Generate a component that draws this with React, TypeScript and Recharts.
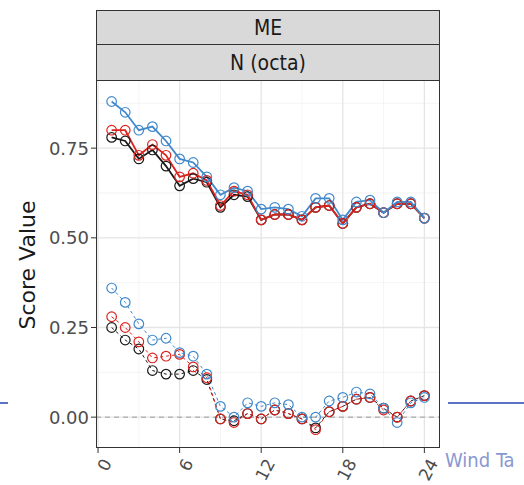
import { LineChart, Line, XAxis, YAxis, ReferenceLine } from 'recharts';

const hours = [1, 2, 3, 4, 5, 6, 7, 8, 9, 10, 11, 12, 13, 14, 15, 16, 17, 18, 19, 20, 21, 22, 23, 24];

// solid group (upper)
const upperBlue = [0.88, 0.85, 0.8, 0.81, 0.77, 0.72, 0.71, 0.67, 0.62, 0.64, 0.63, 0.58, 0.585, 0.58, 0.56, 0.61, 0.61, 0.55, 0.6, 0.605, 0.57, 0.6, 0.6, 0.555];
const upperRed = [0.8, 0.8, 0.73, 0.76, 0.73, 0.67, 0.68, 0.66, 0.59, 0.63, 0.62, 0.55, 0.565, 0.565, 0.55, 0.585, 0.59, 0.54, 0.585, 0.595, 0.57, 0.595, 0.595, 0.555];
const upperBlack = [0.78, 0.77, 0.72, 0.745, 0.7, 0.645, 0.665, 0.655, 0.585, 0.62, 0.615, 0.55, 0.565, 0.565, 0.55, 0.585, 0.59, 0.54, 0.585, 0.595, 0.57, 0.595, 0.595, 0.555];

// dashed group (lower)
const lowerBlue = [0.36, 0.32, 0.26, 0.215, 0.22, 0.18, 0.17, 0.12, 0.03, 0.0, 0.04, 0.03, 0.04, 0.035, 0.0, 0.0, 0.045, 0.055, 0.07, 0.065, 0.025, -0.015, 0.04, 0.055];
const lowerRed = [0.28, 0.25, 0.21, 0.165, 0.17, 0.175, 0.14, 0.11, -0.005, -0.015, 0.01, -0.005, 0.02, 0.01, -0.005, -0.035, 0.015, 0.03, 0.05, 0.055, 0.02, 0.0, 0.045, 0.06];
const lowerBlack = [0.25, 0.215, 0.19, 0.13, 0.12, 0.12, 0.13, 0.105, -0.005, -0.01, 0.01, -0.005, 0.02, 0.01, -0.005, -0.03, 0.015, 0.03, 0.05, 0.055, 0.025, 0.0, 0.045, 0.06];

const xTicks = [0, 6, 12, 18, 24];
const xMinor = [3, 9, 15, 21];
const yTicks = [0, 0.25, 0.5, 0.75];
const yMinor = [0.125, 0.375, 0.625, 0.875];

const BLUE = '#4089cc';
const RED = '#dc2420';
const BLACK = '#1a1a1a';
const TICK_FONT = '"DejaVu Sans", Verdana, sans-serif';
const STRIP_FONT = '"Liberation Sans Narrow", "DejaVu Sans Condensed", Arial, sans-serif';

const data = hours.map((h, i) => ({
  hour: h,
  uBlue: upperBlue[i],
  uRed: upperRed[i],
  uBlack: upperBlack[i],
  lBlue: lowerBlue[i],
  lRed: lowerRed[i],
  lBlack: lowerBlack[i],
}));

const series = [
  { key: 'uBlack', color: BLACK, dashed: false },
  { key: 'uRed', color: RED, dashed: false },
  { key: 'uBlue', color: BLUE, dashed: false },
  { key: 'lBlack', color: BLACK, dashed: true },
  { key: 'lRed', color: RED, dashed: true },
  { key: 'lBlue', color: BLUE, dashed: true },
];

function XTick(props: any) {
  const { x, y, payload } = props;
  const ax = x + 9;
  const ay = y + 5;
  return (
    <text
      x={ax}
      y={ay}
      transform={`rotate(-62 ${ax} ${ay})`}
      textAnchor="end"
      dominantBaseline="central"
      fill="#4d4d4d"
      fontSize={17}
      fontFamily={TICK_FONT}
    >
      {payload.value}
    </text>
  );
}

const strip: React.CSSProperties = {
  position: 'absolute',
  left: 96,
  width: 344,
  background: '#d9d9d9',
  border: '1.5px solid #333',
  boxSizing: 'border-box',
  display: 'flex',
  alignItems: 'center',
  justifyContent: 'center',
  fontFamily: STRIP_FONT,
  fontSize: 21,
  color: '#1a1a1a',
};

export default function App() {
  return (
    <div style={{ position: 'absolute', left: 0, top: 0, width: 524, height: 485, background: '#fff', overflow: 'hidden' }}>
      <LineChart width={524} height={485} data={data} margin={{ top: 80, right: 84, bottom: 0, left: 0 }}>
        <XAxis
          dataKey="hour"
          type="number"
          domain={[-0.15, 25.15]}
          ticks={xTicks}
          axisLine={false}
          tickLine={{ stroke: '#333' }}
          tickSize={5}
          height={37}
          tick={<XTick />}
          allowDataOverflow
        />
        <YAxis
          type="number"
          domain={[-0.086, 0.94]}
          ticks={yTicks}
          tickFormatter={(v: number) => v.toFixed(2)}
          axisLine={false}
          tickLine={{ stroke: '#333' }}
          tickSize={5}
          width={96}
          tick={{ fill: '#4d4d4d', fontSize: 18, fontFamily: TICK_FONT }}
          allowDataOverflow
        />
        {yMinor.map((v) => (
          <ReferenceLine key={`ym${v}`} y={v} stroke="#efefef" strokeWidth={0.7} />
        ))}
        {xMinor.map((v) => (
          <ReferenceLine key={`xm${v}`} x={v} stroke="#efefef" strokeWidth={0.7} />
        ))}
        {yTicks.map((v) => (
          <ReferenceLine key={`yM${v}`} y={v} stroke="#e5e5e5" strokeWidth={1.3} />
        ))}
        {xTicks.map((v) => (
          <ReferenceLine key={`xM${v}`} x={v} stroke="#e5e5e5" strokeWidth={1.3} />
        ))}
        <ReferenceLine y={0} stroke="#9a9a9a" strokeDasharray="5 4" strokeWidth={1} />
        {series.map((s) => (
          <Line
            key={s.key}
            dataKey={s.key}
            type="linear"
            stroke={s.color}
            strokeWidth={s.dashed ? 1 : 1.8}
            strokeDasharray={s.dashed ? '3 3' : undefined}
            dot={{ r: 4.8, fill: 'none', stroke: s.color, strokeWidth: 1.2, strokeDasharray: '' }}
            isAnimationActive={false}
          />
        ))}
      </LineChart>

      {/* panel border */}
      <div style={{ position: 'absolute', left: 96, top: 80, width: 344, height: 368, border: '1.5px solid #333', boxSizing: 'border-box', pointerEvents: 'none' }} />

      {/* facet strips */}
      <div style={{ ...strip, top: 10, height: 35 }}>ME</div>
      <div style={{ ...strip, top: 44, height: 37 }}>N (octa)</div>

      {/* y axis title */}
      <div
        style={{
          position: 'absolute',
          left: 27,
          top: 265,
          transform: 'translate(-50%, -50%) rotate(-90deg)',
          whiteSpace: 'nowrap',
          fontFamily: TICK_FONT,
          fontSize: 22,
          color: '#1a1a1a',
        }}
      >
        Score Value
      </div>

      {/* bits of the surrounding page */}
      <div style={{ position: 'absolute', left: 0, top: 402, width: 8, height: 2, background: '#5b72c4' }} />
      <div style={{ position: 'absolute', left: 448, top: 402, width: 76, height: 2, background: '#5b72c4' }} />
      <div style={{ position: 'absolute', left: 445, top: 448, fontFamily: STRIP_FONT, fontSize: 20, color: '#8a98d2', whiteSpace: 'nowrap' }}>
        Wind Ta
      </div>
    </div>
  );
}
